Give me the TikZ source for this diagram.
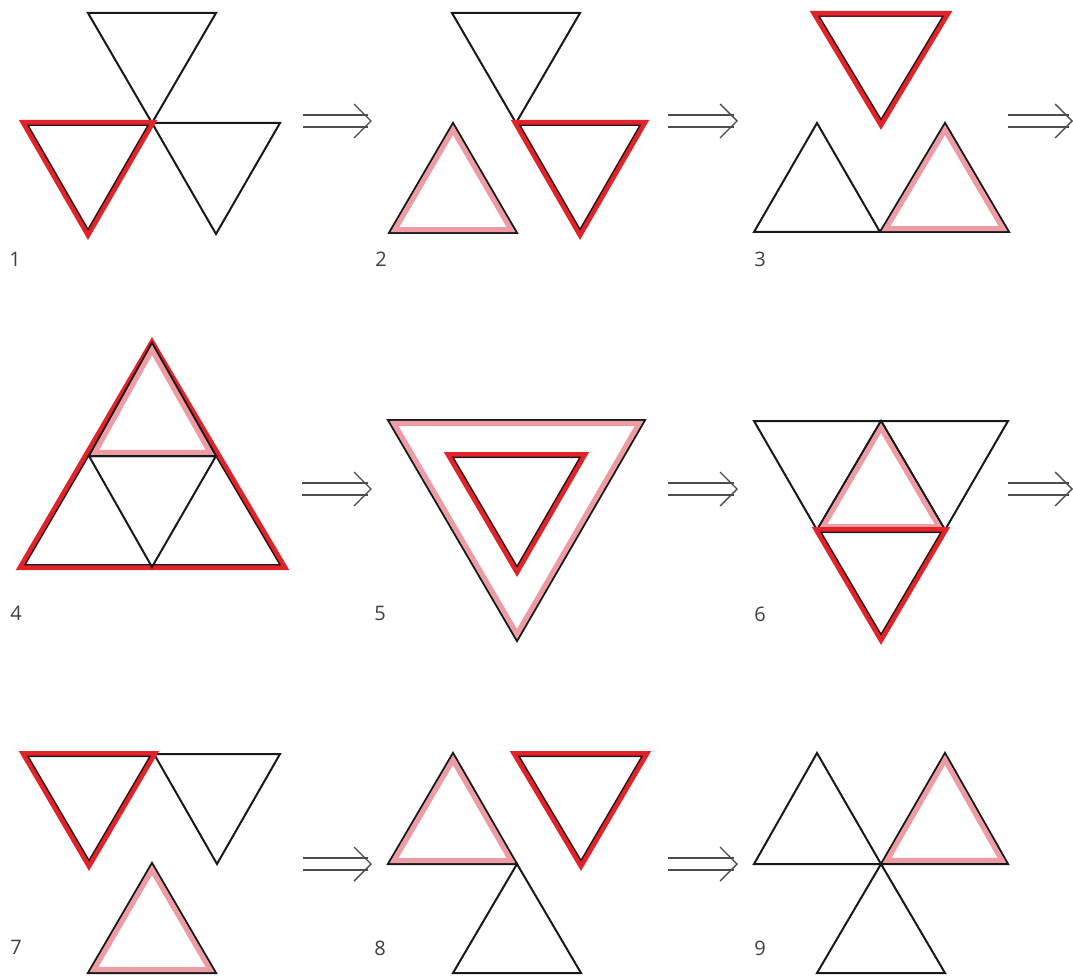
\documentclass[tikz,border=0pt]{standalone}
\usepackage{fontspec}
\setmainfont{Open Sans}
\usetikzlibrary{calc}
\definecolor{tred}{HTML}{E3232A}
\definecolor{tpink}{HTML}{EE9BA4}
\definecolor{tlab}{HTML}{404040}
\tikzset{
 blk/.style={draw=black!90, line width=2pt, line join=miter},
 blkin/.style={draw=black!90, line width=1.2pt, line join=miter},
 redl/.style={draw=tred, line width=6pt, line join=miter},
 pinkl/.style={draw=tpink, line width=5pt, line join=miter},
 arr/.style={draw=black!70, line width=1.4pt, line join=miter},
 lab/.style={font=\fontsize{20}{22}\selectfont, text=tlab, inner sep=0pt},
}
\newcommand\setTri[3]{\coordinate (tA) at (#1); \coordinate (tB) at (#2); \coordinate (tC) at (#3); \coordinate (tG) at ($(tA)!2/3!($(tB)!0.5!(tC)$)$);}
\newcommand\blackTri[3]{\setTri{#1}{#2}{#3}\draw[blk] (tA)--(tB)--(tC)--cycle;}
\newcommand\redTri[3]{\setTri{#1}{#2}{#3}\draw[redl] (tA)--(tB)--(tC)--cycle; \draw[blkin] ($(tA)!4.4pt!(tG)$)--($(tB)!4.4pt!(tG)$)--($(tC)!4.4pt!(tG)$)--cycle;}
\newcommand\pinkTri[3]{\setTri{#1}{#2}{#3}\draw[blk] (tA)--(tB)--(tC)--cycle; \draw[pinkl] ($(tA)!7pt!(tG)$)--($(tB)!7pt!(tG)$)--($(tC)!7pt!(tG)$)--cycle;}
\newcommand\dblarr[4]{%
 \coordinate (#1s) at (#2,#4); \coordinate (#1e) at (#3,#4);
 \draw[arr] ($(#1s)+(0,-6)$) -- ($(#1e)+(-3,-6)$);
 \draw[arr] ($(#1s)+(0,6)$) -- ($(#1e)+(-3,6)$);
 \draw[arr] ($(#1e)+(-17,-17)$) -- (#1e) -- ($(#1e)+(-17,17)$);}
\begin{document}
\begin{tikzpicture}[x=1pt,y=-1pt]
\fill[white] (0,0) rectangle (1073,976);
\useasboundingbox (0,0) rectangle (1073,976);
% ---- panel 1
\blackTri{88,13}{216,13}{152,123}
\blackTri{152,123}{280,123}{216,234}
\redTri{24,123}{152,123}{88,234}
\node[lab] (l1) at (15,259) {1};
% ---- panel 2
\blackTri{452,13}{580,13}{516,123}
\pinkTri{453,123}{389,233}{517,233}
\redTri{516,123}{644,123}{580,234}
\node[lab] (l2) at (381,259) {2};
% ---- panel 3
\blackTri{817,123}{754,232}{880,232}
\pinkTri{945,123}{880,232}{1009,232}
\redTri{815,14}{947,14}{881,124}
\node[lab] (l3) at (760,259) {3};
% ---- panel 4
\redTri{152,343}{21,567}{284,567}
\pinkTri{152,343}{89,456}{216,456}
\blackTri{89,456}{216,456}{152,567}
\node[lab] (l4) at (16,613) {4};
% ---- panel 5
\pinkTri{388,420}{645,420}{517,641}
\redTri{449,455}{584,455}{517,571}
\node[lab] (l5) at (380,613) {5};
% ---- panel 6
\blackTri{754,421}{881,421}{817,530}
\blackTri{881,421}{1008,421}{945,530}
\pinkTri{881,421}{817,530}{945,530}
\redTri{817,530}{945,530}{881,639}
\node[lab] (l6) at (760,614) {6};
% ---- panel 7
\blackTri{154,754}{280,754}{217,864}
\redTri{24,754}{154,754}{89,865}
\pinkTri{152,863}{88,973}{216,973}
\node[lab] (l7) at (16,947) {7};
% ---- panel 8
\pinkTri{453,753}{388,864}{517,864}
\blackTri{517,864}{453,973}{581,973}
\redTri{515,754}{646,754}{581,865}
\node[lab] (l8) at (380,948) {8};
% ---- panel 9
\blackTri{817,753}{754,864}{881,864}
\pinkTri{945,753}{881,864}{1008,864}
\blackTri{881,864}{817,973}{945,973}
\node[lab] (l9) at (760,948) {9};
% ---- arrows
\dblarr{a1}{303}{371}{121}
\dblarr{a2}{668}{737}{121}
\dblarr{a3}{1008}{1072}{121}
\dblarr{a4}{302}{371}{489}
\dblarr{a5}{668}{737}{489}
\dblarr{a6}{1008}{1072}{489}
\dblarr{a7}{303}{371}{864}
\dblarr{a8}{668}{737}{864}
\end{tikzpicture}
\end{document}
